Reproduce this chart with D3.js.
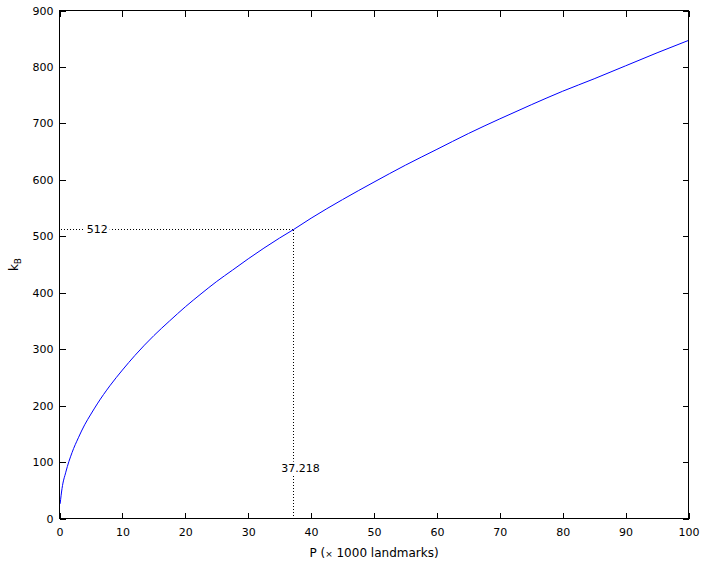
<!DOCTYPE html>
<html>
<head>
<meta charset="utf-8">
<script src="https://cdn.jsdelivr.net/npm/d3@7"></script>
<style>
  body { margin: 0; background: #fff; }
  text { font-family: "DejaVu Sans", sans-serif; }
</style>
</head>
<body>
<svg class="plot" width="702" height="563"></svg>
<script>
// values (P in thousands of landmarks, k_B)
var pValues = [0.1, 0.4, 1, 2, 3, 4, 5, 6, 8, 10, 12, 15, 17.5, 20, 22.5, 25, 27.5, 30, 35, 37.218, 40, 45, 50, 55, 60, 65, 70, 75, 80, 85, 90, 95, 100];
var kValues = [26, 53, 82, 117, 143, 166, 185, 203, 235, 263, 289, 324, 350, 375, 398, 420, 440, 460, 497, 512, 532, 565, 596, 626, 654, 682, 708, 733, 757, 779, 802, 825, 847];

var xTicks = [0, 10, 20, 30, 40, 50, 60, 70, 80, 90, 100];
var yTicks = [0, 100, 200, 300, 400, 500, 600, 700, 800, 900];

// marked point
var markP = [37.218];
var markK = [512];

var margin = {top: 10.5, right: 13.5, bottom: 44.5, left: 59.5};
var svg = d3.select(".plot");
var w = svg.attr("width") - margin.left - margin.right;
var h = svg.attr("height") - margin.top - margin.bottom;

var xScale = d3.scaleLinear().domain([0, 100]).range([0, w]);
var yScale = d3.scaleLinear().domain([0, 900]).range([h, 0]);

var g = svg.append("g")
    .attr("transform", "translate(" + margin.left + "," + margin.top + ")");

// dotted guide lines
var gy0 = Math.round(yScale(markK[0]));
var gx0 = Math.round(xScale(markP[0]));
g.append("line")
    .attr("x1", 1).attr("x2", gx0)
    .attr("y1", gy0).attr("y2", gy0)
    .attr("stroke", "#000").attr("stroke-dasharray", "1,2")
    .attr("shape-rendering", "crispEdges");
g.append("line")
    .attr("x1", gx0).attr("x2", gx0)
    .attr("y1", h).attr("y2", gy0)
    .attr("stroke", "#000").attr("stroke-dasharray", "1,2")
    .attr("shape-rendering", "crispEdges");

// curve
var line = d3.line()
    .x(function(d, i) { return xScale(pValues[i]); })
    .y(function(d, i) { return yScale(kValues[i]); })
    .curve(d3.curveMonotoneX);
g.append("path")
    .datum(pValues)
    .attr("d", line)
    .attr("fill", "none")
    .attr("stroke", "#0000ff")
    .attr("stroke-width", 1);

// annotation labels with white background
function label(px, py, txt) {
    var t = g.append("text")
        .attr("x", px).attr("y", py)
        .attr("text-anchor", "middle")
        .attr("dy", "0.36em")
        .style("font-size", "11px")
        .text(txt);
    var bb = t.node().getBBox();
    g.insert("rect", function() { return t.node(); })
        .attr("x", bb.x - 2).attr("y", bb.y)
        .attr("width", bb.width + 4).attr("height", bb.height)
        .attr("fill", "#fff");
}
label(xScale(6), yScale(markK[0]), String(markK[0]));
label(xScale(38.3), yScale(90), String(markP[0]));

// axes, ticks inward on all four sides
var xAxis = d3.axisBottom(xScale).tickValues(xTicks).tickSize(-6).tickPadding(10);
var yAxis = d3.axisLeft(yScale).tickValues(yTicks).tickSize(-6).tickPadding(6);

var gx = g.append("g").attr("transform", "translate(0," + h + ")").call(xAxis);
var gy = g.append("g").call(yAxis);
var gt = g.append("g").call(d3.axisTop(xScale).tickValues(xTicks).tickSize(-6).tickFormat(""));
var gr = g.append("g").attr("transform", "translate(" + w + ",0)")
    .call(d3.axisRight(yScale).tickValues(yTicks).tickSize(-6).tickFormat(""));

[gx, gy, gt, gr].forEach(function(a) {
    a.select(".domain").remove();
    a.selectAll("line").attr("stroke", "#000").attr("shape-rendering", "crispEdges");
    a.selectAll("text").style("font-size", "11px").attr("fill", "#000").style("font-family", "DejaVu Sans, sans-serif");
});

// box
g.append("rect")
    .attr("x", 0).attr("y", 0).attr("width", w).attr("height", h)
    .attr("fill", "none").attr("stroke", "#000").attr("shape-rendering", "crispEdges");

// axis titles
var xt = svg.append("text")
    .attr("x", margin.left + w / 2).attr("y", 557)
    .attr("text-anchor", "middle")
    .style("font-size", "12px");
xt.append("tspan").text("P (");
xt.append("tspan").style("font-size", "9px").text("×");
xt.append("tspan").text(" 1000 landmarks)");

var yt = svg.append("text")
    .attr("transform", "translate(18," + (margin.top + h / 2) + ") rotate(-90)")
    .attr("text-anchor", "middle")
    .style("font-size", "12px");
yt.append("tspan").text("k");
yt.append("tspan").attr("dy", 3).style("font-size", "9px").text("B");
</script>
</body>
</html>
